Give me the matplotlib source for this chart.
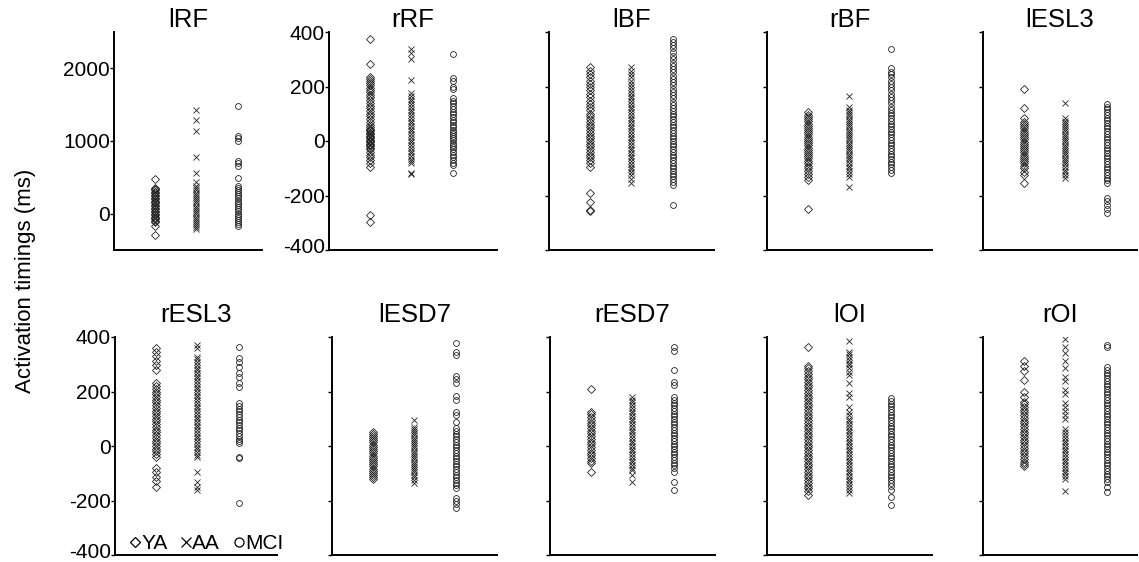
import matplotlib.pyplot as plt
from matplotlib.lines import Line2D
from matplotlib.transforms import ScaledTranslation

plt.rcParams['font.family'] = ['Liberation Sans', 'DejaVu Sans']
plt.rcParams['axes.unicode_minus'] = False

groups = ['YA', 'AA', 'MCI']
markers = ['D', 'x', 'o']

panels = ['lRF', 'rRF', 'lBF', 'rBF', 'lESL3',
          'rESL3', 'lESD7', 'rESD7', 'lOI', 'rOI']

# activation timings (ms) per muscle, per group: YA, AA, MCI
lRF_ya = [480, 360, 340, 320, 300, 280, 260, 240, 220, 200, 180, 160, 140, 120, 100, 80, 60, 40,
          20, 0, -20, -40, -60, -80, -100, -120, -165, -290]
lRF_aa = [1420, 1290, 1140, 780, 560, 440, 380, 350, 320, 290, 260, 230, 200, 170, 140, 110, 80,
          50, 20, -10, -40, -70, -100, -130, -160, -190, -215]
lRF_mci = [1480, 1075, 1040, 1005, 730, 695, 660, 490, 385, 360, 330, 300, 270, 240, 210, 180, 150,
           120, 90, 60, 30, 0, -30, -60, -90, -120, -145, -165]

rRF_ya = [373, 281, 236, 228, 220, 212, 204, 196, 188, 180, 170, 160, 150, 140, 130, 120, 110, 100,
          90, 80, 70, 60, 50, 45, 40, 35, 30, 25, 20, 15, 10, 5, 0, -5, -10, -15, -20, -25, -30, -40,
          -50, -60, -70, -80, -94, -272, -296]
rRF_aa = [336, 322, 300, 224, 175, 165, 155, 145, 135, 125, 115, 105, 95, 85, 75, 65, 55, 45, 35,
          25, 15, 5, -5, -15, -25, -35, -45, -55, -65, -75, -82, -117, -121]
rRF_mci = [319, 230, 220, 197, 190, 157, 148, 138, 128, 118, 108, 98, 88, 78, 68, 58, 50, 42, 34,
           26, 18, 10, 2, -6, -14, -22, -30, -40, -50, -60, -70, -80, -88, -119]

lBF_ya = [270, 258, 246, 234, 222, 210, 198, 186, 174, 160, 148, 136, 124, 112, 100, 90, 80, 70,
          60, 50, 40, 30, 20, 10, 0, -10, -20, -30, -40, -50, -60, -70, -80, -94, -190, -223, -252,
          -258]
lBF_aa = [270, 258, 246, 234, 222, 210, 198, 186, 176, 166, 156, 146, 136, 126, 116, 106, 96, 86,
          76, 66, 56, 46, 36, 26, 16, 6, -4, -14, -24, -34, -44, -54, -64, -74, -84, -94, -104, -114,
          -126, -140, -155]
lBF_mci = [373, 362, 352, 340, 326, 312, 300, 288, 276, 264, 252, 240, 228, 216, 204, 192, 180, 168,
           156, 144, 132, 120, 110, 100, 90, 80, 70, 60, 50, 40, 30, 20, 10, 0, -10, -20, -30, -40,
           -50, -60, -70, -80, -90, -100, -110, -120, -130, -140, -150, -161, -235]

rBF_ya = [105, 96, 88, 80, 72, 64, 56, 48, 40, 32, 24, 16, 8, 0, -8, -16, -24, -32, -40, -48, -56,
          -64, -72, -80, -90, -100, -110, -120, -132, -143, -251]
rBF_aa = [166, 124, 114, 106, 98, 90, 82, 74, 66, 58, 50, 42, 34, 26, 18, 10, 2, -6, -14, -22, -30,
          -38, -46, -54, -62, -70, -80, -90, -100, -110, -120, -131, -168]
rBF_mci = [338, 267, 255, 245, 235, 222, 210, 198, 186, 174, 162, 150, 138, 126, 114, 104, 94, 84,
           74, 64, 54, 44, 34, 24, 14, 4, -6, -16, -26, -36, -46, -56, -66, -76, -86, -96, -106, -116]

lESL3_ya = [190, 120, 83, 71, 62, 54, 46, 38, 30, 22, 14, 6, -2, -10, -18, -26, -34, -42, -50, -58,
            -66, -74, -82, -90, -100, -112, -125, -155]
lESL3_aa = [138, 83, 75, 67, 59, 51, 43, 35, 27, 19, 11, 3, -5, -13, -21, -29, -37, -45, -53, -61,
            -69, -77, -85, -95, -105, -115, -125, -137]
lESL3_mci = [136, 126, 116, 106, 96, 86, 76, 66, 56, 46, 36, 26, 16, 6, -4, -14, -24, -34, -44, -54,
             -64, -74, -84, -94, -104, -114, -124, -134, -144, -155, -210, -222, -234, -248, -265]

rESL3_ya = [358, 345, 330, 312, 297, 279, 230, 220, 210, 200, 190, 180, 170, 160, 150, 140, 130, 120,
            110, 100, 90, 80, 70, 60, 50, 40, 30, 20, 10, 0, -10, -20, -30, -39, -82, -95, -113,
            -130, -149]
rESL3_aa = [371, 360, 328, 318, 308, 298, 288, 278, 268, 258, 248, 238, 228, 218, 208, 198, 188, 178,
            168, 158, 148, 138, 128, 118, 108, 98, 88, 78, 68, 58, 48, 38, 28, 18, 8, -2, -12, -22,
            -32, -42, -94, -131, -149, -161]
rESL3_mci = [364, 322, 310, 291, 267, 255, 230, 218, 157, 147, 137, 127, 117, 107, 97, 87, 77, 67, 57,
             47, 37, 27, 17, 10, -39, -45, -210]

lESD7_ya = [53, 45, 37, 29, 21, 13, 5, -3, -11, -19, -27, -35, -43, -51, -59, -67, -75, -83, -91,
            -99, -107, -115, -122]
lESD7_aa = [95, 71, 63, 55, 47, 39, 31, 23, 15, 7, -1, -9, -17, -25, -33, -41, -49, -57, -65, -73,
            -81, -89, -97, -105, -115, -125, -135]
lESD7_mci = [379, 346, 335, 257, 245, 230, 183, 170, 126, 114, 89, 65, 55, 45, 35, 25, 15, 5, -5, -15,
             -25, -35, -45, -55, -65, -75, -85, -95, -105, -115, -125, -135, -143, -155, -192, -202,
             -212, -229]

rESD7_ya = [208, 126, 116, 106, 96, 86, 76, 66, 56, 46, 36, 26, 16, 6, -4, -14, -24, -34, -44, -54,
            -64, -94]
rESD7_aa = [181, 170, 160, 150, 140, 130, 120, 110, 100, 90, 80, 70, 60, 50, 40, 30, 20, 10, 0, -10,
            -20, -30, -40, -50, -60, -70, -80, -88, -105, -131]
rESD7_mci = [362, 350, 279, 236, 225, 179, 169, 159, 149, 139, 129, 119, 109, 99, 89, 79, 69, 59, 49,
             39, 29, 19, 9, -1, -11, -21, -31, -41, -51, -61, -71, -81, -94, -131, -161]

lOI_ya = [362, 294, 285, 275, 265, 255, 245, 235, 225, 215, 205, 195, 185, 175, 165, 155, 145, 135,
          125, 115, 105, 95, 85, 75, 65, 55, 45, 35, 25, 15, 5, -5, -15, -25, -35, -45, -55, -65, -75,
          -85, -95, -105, -115, -125, -135, -145, -155, -165, -180]
lOI_aa = [385, 346, 336, 326, 316, 306, 296, 286, 273, 262, 230, 193, 180, 144, 125, 112, 100, 90, 80,
          70, 60, 50, 40, 30, 20, 10, 0, -10, -20, -30, -40, -50, -60, -70, -80, -90, -100, -110, -120,
          -130, -140, -150, -160, -174]
lOI_mci = [175, 165, 155, 145, 135, 125, 115, 105, 95, 85, 75, 65, 55, 45, 35, 25, 15, 5, -5, -15, -25,
           -35, -45, -55, -65, -75, -85, -95, -105, -115, -125, -135, -145, -161, -186, -216]

rOI_ya = [312, 295, 275, 242, 199, 180, 163, 153, 143, 133, 123, 113, 103, 93, 83, 73, 63, 53, 43, 33,
          23, 13, 3, -7, -17, -27, -37, -47, -57, -65, -73]
rOI_aa = [392, 365, 340, 312, 285, 252, 240, 206, 192, 157, 142, 130, 115, 100, 61, 50, 40, 30, 20, 10,
          0, -10, -20, -30, -40, -50, -60, -70, -80, -90, -100, -110, -122, -165]
rOI_mci = [371, 362, 289, 279, 269, 259, 249, 239, 229, 219, 209, 199, 189, 179, 169, 159, 149, 139,
           129, 119, 109, 99, 89, 79, 69, 59, 49, 39, 29, 19, 9, -1, -11, -21, -31, -41, -51, -61, -71,
           -81, -91, -101, -111, -121, -131, -149, -168]

data = {
    'lRF': [lRF_ya, lRF_aa, lRF_mci],
    'rRF': [rRF_ya, rRF_aa, rRF_mci],
    'lBF': [lBF_ya, lBF_aa, lBF_mci],
    'rBF': [rBF_ya, rBF_aa, rBF_mci],
    'lESL3': [lESL3_ya, lESL3_aa, lESL3_mci],
    'rESL3': [rESL3_ya, rESL3_aa, rESL3_mci],
    'lESD7': [lESD7_ya, lESD7_aa, lESD7_mci],
    'rESD7': [rESD7_ya, rESD7_aa, rESD7_mci],
    'lOI': [lOI_ya, lOI_aa, lOI_mci],
    'rOI': [rOI_ya, rOI_aa, rOI_mci],
}

W, H = 1139, 562
# axes boxes in pixels: left, right, top, bottom
boxes = {
    'lRF': (114, 262, 32, 250), 'rRF': (329, 497, 32, 250), 'lBF': (549, 714, 32, 250),
    'rBF': (767, 932, 32, 250), 'lESL3': (983, 1137, 32, 250),
    'rESL3': (115, 277, 337, 555), 'lESD7': (332, 497, 337, 555), 'rESD7': (550, 715, 337, 555),
    'lOI': (767, 932, 337, 555), 'rOI': (983, 1137, 337, 555),
}

fig = plt.figure(figsize=(W / 100, H / 100), dpi=100)
col = '#222222'

for name in panels:
    l, r, t, b = boxes[name]
    ax = fig.add_axes([l / W, (H - b) / H, (r - l) / W, (b - t) / H])
    for i, vals in enumerate(data[name]):
        ms = {'D': 3.6, 'x': 3.8, 'o': 4.2}[markers[i]]
        ax.plot([i + 1] * len(vals), vals, linestyle='none', marker=markers[i],
                markersize=ms, markerfacecolor='none', markeredgecolor=col,
                markeredgewidth=0.6)
    ax.set_xlim(0, (r - l) / 41.2)
    if name == 'lRF':
        ax.set_ylim(-500, 2500)
        ax.set_yticks([0, 1000, 2000])
    else:
        ax.set_ylim(-400, 400)
        ax.set_yticks([-400, -200, 0, 200, 400])
    if name not in ('lRF', 'rRF', 'rESL3'):
        ax.set_yticklabels([])
    ax.set_xticks([])
    for s in ('top', 'right'):
        ax.spines[s].set_visible(False)
    for s in ('left', 'bottom'):
        ax.spines[s].set_linewidth(1.4)
    ax.tick_params(axis='y', direction='out', length=3, width=1, labelsize=15, pad=0)
    if name in ('rRF', 'rESL3'):
        # lowest label sits a little above its tick
        lab = ax.get_yticklabels()[0]
        lab.set_transform(lab.get_transform() + ScaledTranslation(0, 3 / 72, fig.dpi_scale_trans))
    ax.set_title(name, fontsize=18.5, pad=0 if t < 100 else 11)
    if name == 'rESL3':
        handles = [Line2D([], [], linestyle='none', marker=m, markersize=6.5 if m != 'D' else 5,
                          markerfacecolor='none', markeredgecolor='k', markeredgewidth=0.9)
                   for m in markers]
        ax.legend(handles, groups, loc='lower left', bbox_to_anchor=(0.09, 0.01), ncol=3,
                  frameon=False, handlelength=0.5, handletextpad=0.05, columnspacing=0.65,
                  borderaxespad=0, borderpad=0, fontsize=15)

fig.text(0.022, 0.5, 'Activation timings (ms)', rotation=90, va='center', ha='center',
         fontsize=16)

fig.savefig('out.png', dpi=100)
